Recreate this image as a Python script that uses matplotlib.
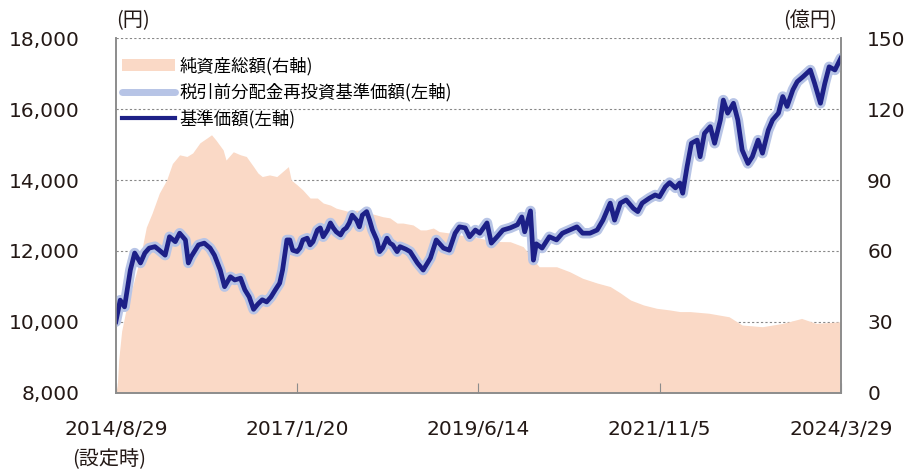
import matplotlib
matplotlib.use("Agg")
from matplotlib import pyplot as plt
from matplotlib.patches import Patch
from matplotlib.lines import Line2D
import matplotlib.dates as mdates
import numpy as np
import pandas as pd

plt.rcParams['font.family'] = ['DejaVu Sans', 'Noto Sans CJK JP']

# 基準価額（週次、設定日からの週数）
nav_week = [0, 3, 6, 10, 13, 17, 20, 23, 27, 30, 34, 37, 41, 44, 48, 50, 52, 57, 61, 65,
            68, 72, 75, 79, 82, 86, 89, 92, 95, 98, 101, 104, 107, 110, 113, 115, 118, 120, 122, 125,
            127, 129, 132, 134, 136, 139, 141, 143, 146, 148, 150, 152, 155, 157, 159, 161, 163, 166, 168, 170,
            173, 175, 177, 180, 182, 184, 187, 189, 191, 194, 196, 200, 203, 208, 212, 217, 221, 226, 230, 234,
            237, 241, 244, 248, 251, 256, 259, 263, 267, 272, 277, 280, 282, 286, 288, 290, 294, 299, 304, 308,
            313, 318, 322, 327, 332, 336, 341, 344, 348, 352, 357, 360, 363, 368, 372, 375, 379, 382, 386, 389,
            391, 394, 397, 401, 403, 406, 410, 413, 417, 419, 422, 426, 429, 432, 436, 439, 443, 446, 450, 453,
            457, 460, 463, 467, 470, 474, 479, 482, 486, 489, 492, 496, 500]
nav = [10000, 10610, 10420, 11460, 11940, 11660, 11940, 12080, 12120, 12020, 11880, 12400, 12260, 12500, 12310, 11660, 11840, 12170, 12220, 12080,
       11880, 11460, 10990, 11270, 11180, 11230, 10900, 10700, 10350, 10500, 10620, 10560, 10700, 10900, 11090, 11460, 12310, 12310, 12020, 11980,
       12080, 12310, 12360, 12170, 12260, 12590, 12650, 12400, 12590, 12790, 12650, 12540, 12450, 12590, 12650, 12790, 13010, 12870, 12680, 13010,
       13110, 12870, 12590, 12310, 11980, 12080, 12360, 12220, 12170, 11980, 12120, 12050, 11980, 11660, 11460, 11800, 12310, 12080, 12020, 12500,
       12680, 12650, 12400, 12590, 12500, 12790, 12220, 12400, 12590, 12650, 12740, 12960, 12540, 13130, 11740, 12200, 12080, 12400, 12310, 12500,
       12590, 12680, 12500, 12500, 12590, 12870, 13350, 12870, 13350, 13440, 13200, 13110, 13350, 13490, 13580, 13530, 13810, 13930, 13780, 13920,
       13630, 14380, 15040, 15130, 14660, 15320, 15510, 15040, 15700, 16260, 15890, 16170, 15700, 14850, 14470, 14660, 15130, 14760, 15410, 15700,
       15890, 16360, 16080, 16550, 16780, 16920, 17110, 16730, 16170, 16730, 17200, 17110, 17440]
# 税引前分配金再投資基準価額（分配なしのため基準価額と同じ）
nav_reinvest = list(nav)

# 純資産総額（億円）
asset_week = [0, 1, 2, 4, 7, 12, 17, 21, 25, 30, 35, 39, 44, 49, 53, 58, 63, 66, 69, 74,
              76, 81, 86, 90, 95, 98, 101, 106, 111, 115, 119, 121, 125, 129, 134, 139, 143, 148, 152, 157,
              161, 166, 170, 175, 180, 184, 189, 194, 198, 205, 210, 214, 219, 223, 230, 240, 250, 262, 272, 281,
              287, 292, 304, 313, 322, 332, 341, 348, 355, 364, 373, 382, 389, 396, 409, 423, 432, 446, 460, 473,
              483, 500]
asset = [0, 3, 14, 26, 35, 46, 57.6, 70, 76, 84.5, 90, 97, 100.7, 100, 101.5, 105.8, 107.9, 109.2, 107, 102.8,
         98.5, 102, 100.7, 100, 95.7, 93, 91.5, 92.2, 91.5, 93.6, 95.7, 90, 88, 85.8, 82.4, 82.4, 80.3, 79.4, 78.1, 77.3,
         76.6, 77.3, 77, 76, 75.2, 74.5, 74, 71.8, 71.8, 71, 68.9, 68.9, 69.7, 68.2, 67.6, 66.5, 65.5, 64, 63.9, 61.8,
         57, 53.3, 53.3, 51.2, 48.4, 46.4, 44.9, 42.2, 39.2, 37.1, 35.7, 35, 34.3, 34.3, 33.6, 32.1, 28.6, 27.9, 29.3, 31.4,
         29.3, 30]

tick_dates = ["2014-08-29", "2017-01-20", "2019-06-14", "2021-11-05", "2024-03-29"]
tick_labels = ["2014/8/29", "2017/1/20", "2019/6/14", "2021/11/5", "2024/3/29"]

start = pd.Timestamp("2014-08-29")
nav_dates = start + pd.to_timedelta(np.array(nav_week) * 7, unit="D")
asset_dates = start + pd.to_timedelta(np.array(asset_week) * 7, unit="D")

col_area = "#fad9c6"
col_light = "#b7c4e6"
col_navy = "#1d2087"
col_text = "#231815"
col_spine = "#8c8c8c"
fs = 14.5
jp = ["Noto Sans CJK JP", "DejaVu Sans"]

fig = plt.figure(figsize=(9.05, 4.69), dpi=100)
ax = fig.add_axes([0.128, 0.163, 0.801, 0.755])
ax2 = ax.twinx()

# 純資産総額（右軸）を後ろに
ax2.fill_between(asset_dates, asset, 0, color=col_area, lw=0, zorder=2)
ax2.set_ylim(0, 150)
ax2.set_yticks([0, 30, 60, 90, 120, 150])
ax2.set_axisbelow(True)
ax2.yaxis.grid(True, ls=(0, (2, 2)), color="#888888", lw=0.8, zorder=0)
ax2.tick_params(axis="y", length=0, pad=19, labelsize=fs, labelcolor=col_text)

ax.set_zorder(ax2.get_zorder() + 1)
ax.patch.set_visible(False)
ax.plot(nav_dates, nav_reinvest, color=col_light, lw=7.5, solid_joinstyle="round", solid_capstyle="round")
ax.plot(nav_dates, nav, color=col_navy, lw=3.4, solid_joinstyle="round")
ax.set_ylim(8000, 18000)
ax.set_yticks([8000, 10000, 12000, 14000, 16000, 18000])
ax.set_yticklabels([f"{v:,}" for v in [8000, 10000, 12000, 14000, 16000, 18000]])
ax.tick_params(axis="y", length=0, pad=26, labelsize=fs, labelcolor=col_text)

ax.set_xlim(start, pd.Timestamp(tick_dates[-1]))
ax.set_xticks(pd.to_datetime(tick_dates))
ax.set_xticklabels(tick_labels)
ax.tick_params(axis="x", direction="in", length=7, color=col_spine, pad=20, labelsize=fs, labelcolor=col_text)

for a in (ax, ax2):
    a.spines["top"].set_visible(False)
    for s in ("left", "right", "bottom"):
        a.spines[s].set_color(col_spine)
        a.spines[s].set_linewidth(1.2)

ax.annotate("(設定時)", xy=(mdates.date2num(start), -0.19), xycoords=ax.get_xaxis_transform(),
            xytext=(-5, 0), textcoords="offset points",
            ha="center", va="center", fontsize=fs, color=col_text, family=jp)
ax.text(0.024, 1.05, "(円)", transform=ax.transAxes, ha="center", va="center", fontsize=fs,
        color=col_text, family=jp)
ax.text(0.957, 1.05, "(億円)", transform=ax.transAxes, ha="center", va="center", fontsize=fs,
        color=col_text, family=jp)

handles = [Patch(facecolor=col_area, edgecolor="none"),
           Line2D([], [], color=col_light, lw=5, solid_capstyle="round"),
           Line2D([], [], color=col_navy, lw=3)]
labels = ["純資産総額(右軸)", "税引前分配金再投資基準価額(左軸)", "基準価額(左軸)"]
ax.legend(handles, labels, loc="upper left", bbox_to_anchor=(0.008, 0.948), frameon=False,
          prop={"family": jp, "size": 12.5},
          handlelength=3.05, handleheight=0.7, handletextpad=0.3,
          labelspacing=0.45, borderaxespad=0, borderpad=0)

fig.savefig("out.png", dpi=100)
